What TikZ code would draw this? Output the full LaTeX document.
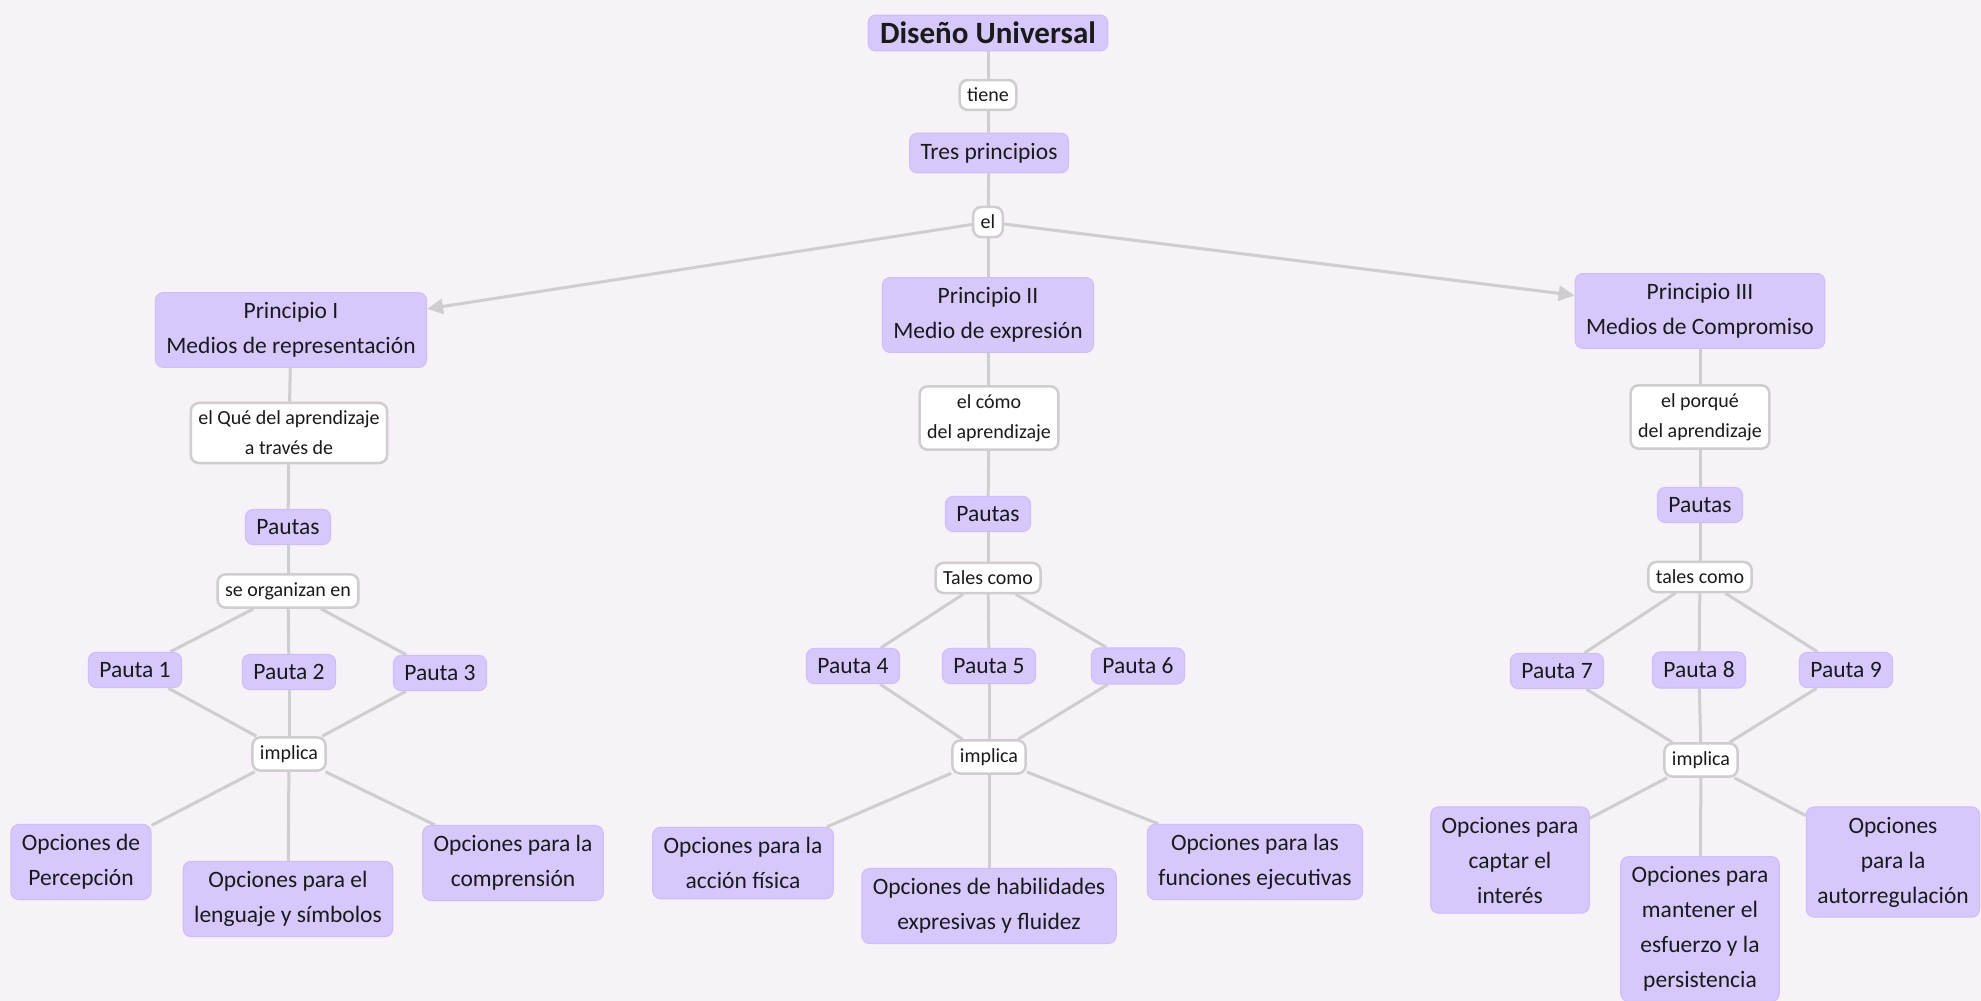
\documentclass[tikz,border=0pt]{standalone}
\usepackage{fontspec}
\setmainfont{Carlito}
\usetikzlibrary{arrows.meta}
\definecolor{pagebg}{HTML}{F6F2F7}
\definecolor{conceptfill}{HTML}{D6C8FD}
\definecolor{conceptedge}{HTML}{CDBEF5}
\definecolor{linkgray}{HTML}{CFCDCF}
\definecolor{inktext}{HTML}{1A1A1A}
\pgfdeclarelayer{bg}
\pgfdeclarelayer{wires}
\pgfsetlayers{bg,wires,main}
\tikzset{
  concept/.style={fill=conceptfill, draw=conceptedge, line width=1pt,
    rounded corners=8pt, align=center, text=inktext,
    font=\fontsize{23.5}{35}\selectfont, inner xsep=11pt, inner ysep=10pt},
  linkword/.style={fill=white, draw=linkgray, line width=2.5pt,
    rounded corners=8pt, align=center, text=inktext,
    font=\fontsize{20}{30}\selectfont, inner xsep=7.5pt, inner ysep=8pt},
  wire/.style={draw=linkgray, line width=3pt},
  wirearrow/.style={wire, -{Triangle[length=16pt,width=15pt]}},
}
\begin{document}
\begin{tikzpicture}[x=1pt,y=-1pt]
\begin{pgfonlayer}{bg}
  \fill[pagebg] (0,0) rectangle (1981,1001);
\end{pgfonlayer}
\useasboundingbox (0,0) rectangle (1981,1001);

% top of the map
\node[concept, font=\bfseries\fontsize{31}{36}\selectfont, inner xsep=12pt, inner ysep=7pt] (title) at (988,33) {Diseño Universal};
\node[linkword] (tiene) at (988,95) {tiene};
\node[concept] (tres) at (989,153) {Tres principios};
\node[linkword] (el) at (988,222) {el};

% the three principles
\node[concept] (p1) at (291,330) {Principio I\\Medios de representación};
\node[concept] (p2) at (988,315) {Principio II\\Medio de expresión};
\node[concept] (p3) at (1700,311) {Principio III\\Medios de Compromiso};

\node[linkword] (q1) at (289,433) {el Qué del aprendizaje\\a través de};
\node[linkword] (q2) at (989,418) {el cómo\\del aprendizaje};
\node[linkword] (q3) at (1700,417) {el porqué\\del aprendizaje};

\node[concept] (pa1) at (288,527) {Pautas};
\node[concept] (pa2) at (988,514) {Pautas};
\node[concept] (pa3) at (1700,505) {Pautas};

\node[linkword] (org1) at (288,591) {se organizan en};
\node[linkword] (org2) at (988,578) {Tales como};
\node[linkword] (org3) at (1700,577) {tales como};

% guidelines
\node[concept] (g1) at (135,670) {Pauta 1};
\node[concept] (g2) at (289,672) {Pauta 2};
\node[concept] (g3) at (440,673) {Pauta 3};
\node[concept] (g4) at (853,666) {Pauta 4};
\node[concept] (g5) at (989,666) {Pauta 5};
\node[concept] (g6) at (1138,666) {Pauta 6};
\node[concept] (g7) at (1557,671) {Pauta 7};
\node[concept] (g8) at (1699,670) {Pauta 8};
\node[concept] (g9) at (1846,670) {Pauta 9};

\node[linkword] (imp1) at (289,754) {implica};
\node[linkword] (imp2) at (989,757) {implica};
\node[linkword] (imp3) at (1701,760) {implica};

% options
\node[concept] (o1) at (81,862) {Opciones de\\Percepción};
\node[concept] (o2) at (288,899) {Opciones para el\\lenguaje y símbolos};
\node[concept] (o3) at (513,863) {Opciones para la\\comprensión};
\node[concept] (o4) at (743,863) {Opciones para la\\acción física};
\node[concept] (o5) at (989,906) {Opciones de habilidades\\expresivas y fluidez};
\node[concept] (o6) at (1255,862) {Opciones para las\\funciones ejecutivas};
\node[concept] (o7) at (1510,860) {Opciones para\\captar el\\interés};
\node[concept] (o8) at (1700,929) {Opciones para\\mantener el\\esfuerzo y la\\persistencia};
\node[concept] (o9) at (1893,862) {Opciones\\para la\\autorregulación};

% connectors
\begin{pgfonlayer}{wires}
  \draw[wire] (title) -- (tiene);
  \draw[wire] (tiene) -- (tres);
  \draw[wire] (tres) -- (el);
  \draw[wirearrow] (el) -- (p1);
  \draw[wire] (el) -- (p2);
  \draw[wirearrow] (el) -- (p3);
  \foreach \i in {1,2,3} {
    \draw[wire] (p\i) -- (q\i);
    \draw[wire] (q\i) -- (pa\i);
    \draw[wire] (pa\i) -- (org\i);
  }
  \foreach \g in {1,2,3} { \draw[wire] (org1) -- (g\g); \draw[wire] (g\g) -- (imp1); }
  \foreach \g in {4,5,6} { \draw[wire] (org2) -- (g\g); \draw[wire] (g\g) -- (imp2); }
  \foreach \g in {7,8,9} { \draw[wire] (org3) -- (g\g); \draw[wire] (g\g) -- (imp3); }
  \foreach \o in {1,2,3} { \draw[wire] (imp1) -- (o\o); }
  \foreach \o in {4,5,6} { \draw[wire] (imp2) -- (o\o); }
  \foreach \o in {7,8,9} { \draw[wire] (imp3) -- (o\o); }
\end{pgfonlayer}
\end{tikzpicture}
\end{document}
